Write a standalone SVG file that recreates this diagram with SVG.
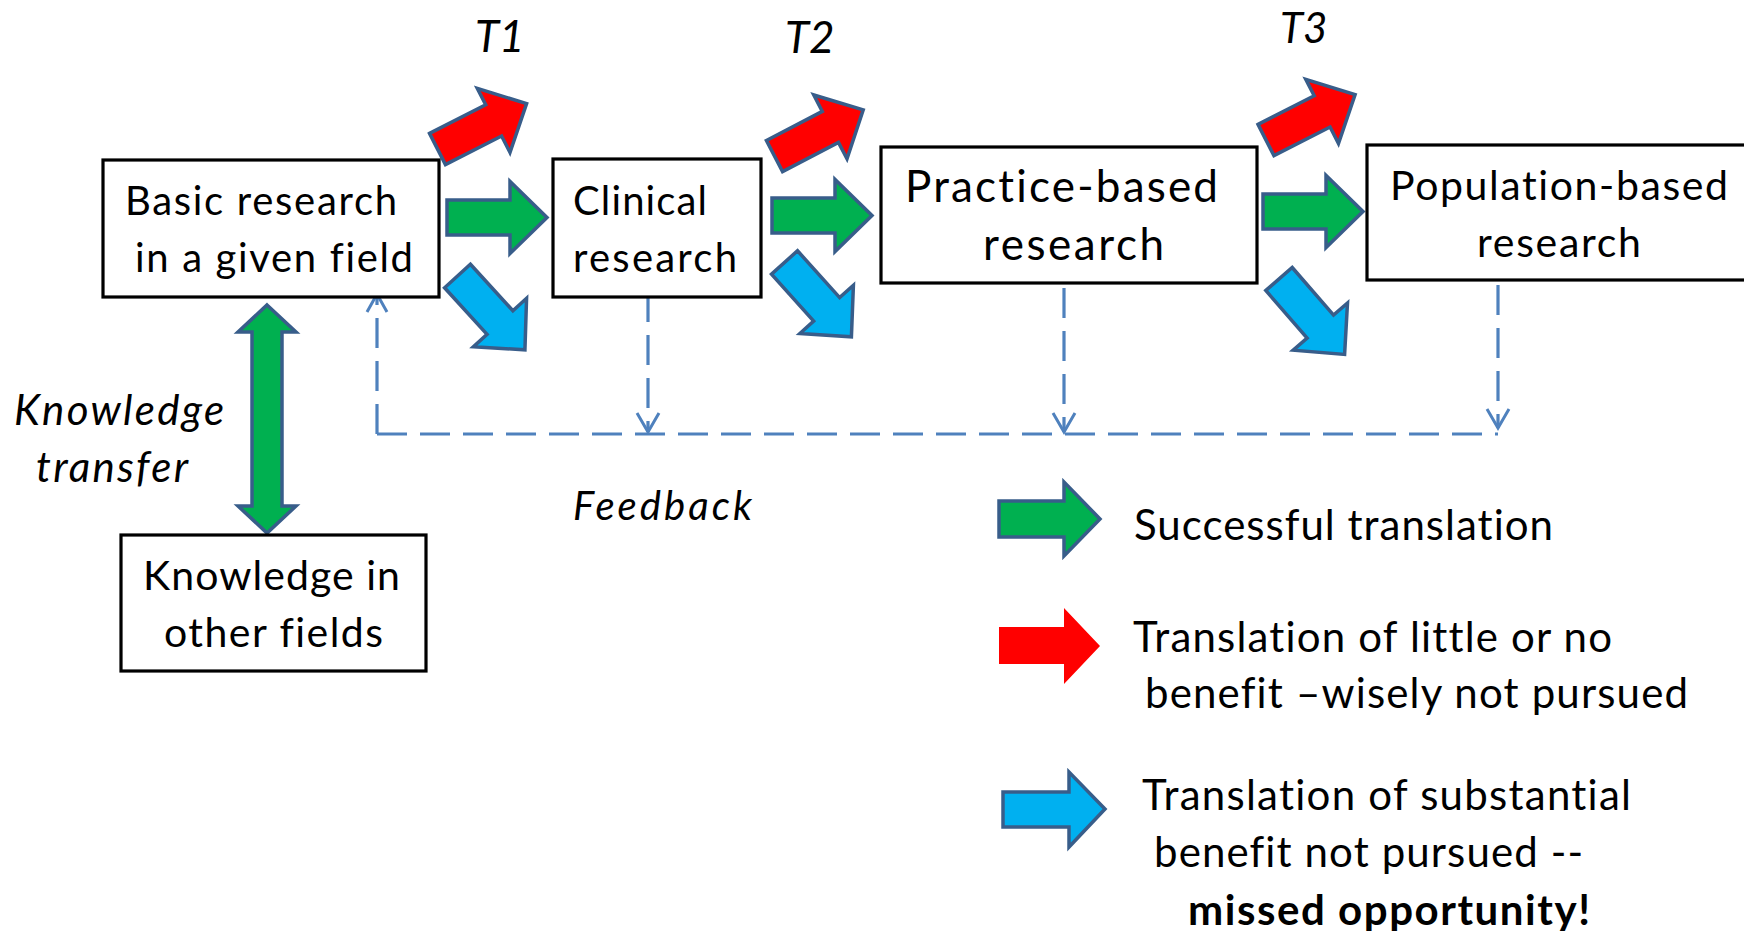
<svg xmlns="http://www.w3.org/2000/svg" xmlns:xlink="http://www.w3.org/1999/xlink" width="1744" height="931" viewBox="0 0 1744 931">
<style>
.box{fill:#fff;stroke:#000;stroke-width:3.2}
.t{font-family:Lato,"Liberation Sans",sans-serif;fill:#000;font-variant-ligatures:none}
.i{font-style:italic}
.b{font-weight:bold}
.g{fill:#00B050;stroke:#385D8A;stroke-width:3.5;stroke-linejoin:miter}
.r{fill:#FF0000;stroke:#385D8A;stroke-width:3.5}
.c{fill:#00B0F0;stroke:#385D8A;stroke-width:3.5}
.dash{fill:none;stroke:#4F81BD;stroke-width:3.2;stroke-dasharray:30 13}
.head{fill:none;stroke:#4F81BD;stroke-width:3}
</style>
<defs>
<polygon id="arr" points="0,-17.5 63,-17.5 63,-36 100,0 63,36 63,17.5 0,17.5"/>
</defs>
<rect width="1744" height="931" fill="#fff"/>

<g id="connectors">
<line class="dash" x1="377" y1="434" x2="1498" y2="434"/>
<line class="dash" x1="377" y1="434" x2="377" y2="295"/>
<polyline class="head" points="367,312 377,294 387,312"/>
<line class="dash" x1="648" y1="292" x2="648" y2="432"/>
<polyline class="head" points="637,413 648,432 659,413"/>
<line class="dash" x1="1064" y1="288" x2="1064" y2="432"/>
<polyline class="head" points="1053,413 1064,432 1075,413"/>
<line class="dash" x1="1498" y1="285" x2="1498" y2="428"/>
<polyline class="head" points="1487,409 1498,428 1509,409"/>
</g>

<g id="arrows">
<use xlink:href="#arr" class="r" transform="translate(437.5,149) rotate(-27)"/>
<use xlink:href="#arr" class="g" transform="translate(447,217.5)"/>
<use xlink:href="#arr" class="c" transform="translate(457.5,276) rotate(47.6)"/>
<use xlink:href="#arr" class="r" transform="translate(774.5,156) rotate(-27.5)"/>
<use xlink:href="#arr" class="g" transform="translate(772,215.5)"/>
<use xlink:href="#arr" class="c" transform="translate(784.5,262.5) rotate(48)"/>
<use xlink:href="#arr" class="r" transform="translate(1266,140) rotate(-27)"/>
<use xlink:href="#arr" class="g" transform="translate(1263,211.5)"/>
<use xlink:href="#arr" class="c" transform="translate(1279,279) rotate(49)"/>
<polygon class="g" points="267,305 296,332 282,332 282,506 296,506 267,533 238,506 252,506 252,332 238,332"/>
</g>

<g id="node-basic">
<rect class="box" x="103" y="160" width="336" height="137"/>
<text class="t" font-size="40" x="125" y="215" textLength="272">Basic research</text>
<text class="t" font-size="40" x="135" y="272" textLength="278">in a given field</text>
</g>
<g id="node-clinical">
<rect class="box" x="553" y="159" width="208" height="138"/>
<text class="t" font-size="40" x="573" y="215" textLength="134">Clinical</text>
<text class="t" font-size="40" x="573" y="272" textLength="164">research</text>
</g>
<g id="node-practice">
<rect class="box" x="881" y="147" width="376" height="136"/>
<text class="t" font-size="44" x="905" y="202" textLength="313">Practice-based</text>
<text class="t" font-size="44" x="983" y="260" textLength="181">research</text>
</g>
<g id="node-population">
<rect class="box" x="1367" y="145" width="400" height="135"/>
<text class="t" font-size="41" x="1390" y="200" textLength="338">Population-based</text>
<text class="t" font-size="41" x="1477" y="257" textLength="164">research</text>
</g>
<g id="node-other">
<rect class="box" x="121" y="535" width="305" height="136"/>
<text class="t" font-size="41" x="143" y="590" textLength="257">Knowledge in</text>
<text class="t" font-size="41" x="164" y="647" textLength="219">other fields</text>
</g>

<g id="labels">
<text class="t i" font-size="44" x="475" y="52">T1</text>
<text class="t i" font-size="44" x="785" y="53">T2</text>
<text class="t i" font-size="42" x="1280" y="43">T3</text>
<text class="t i" font-size="42" x="14" y="425" textLength="210">Knowledge</text>
<text class="t i" font-size="42" x="36" y="482" textLength="152">transfer</text>
<text class="t i" font-size="40" x="573" y="520" textLength="179">Feedback</text>
</g>

<g id="legend">
<polygon class="g" points="999,501 1064,501 1064,482 1100,519 1064,556 1064,537 999,537"/>
<text class="t" font-size="42" x="1134" y="540" textLength="419">Successful translation</text>
<polygon fill="#FF0000" points="999,627 1064,627 1064,608 1100,646 1064,684 1064,664 999,664"/>
<text class="t" font-size="42" x="1133" y="652" textLength="479">Translation of little or no</text>
<text class="t" font-size="42" x="1145" y="708" textLength="543">benefit –wisely not pursued</text>
<polygon class="c" points="1003,792 1069,792 1069,772 1105,809 1069,847 1069,827 1003,827"/>
<text class="t" font-size="42" x="1142" y="810" textLength="489">Translation of substantial</text>
<text class="t" font-size="42" x="1154" y="867" textLength="429">benefit not pursued --</text>
<text class="t b" font-size="42" x="1188" y="925" textLength="402">missed opportunity!</text>
</g>
</svg>
